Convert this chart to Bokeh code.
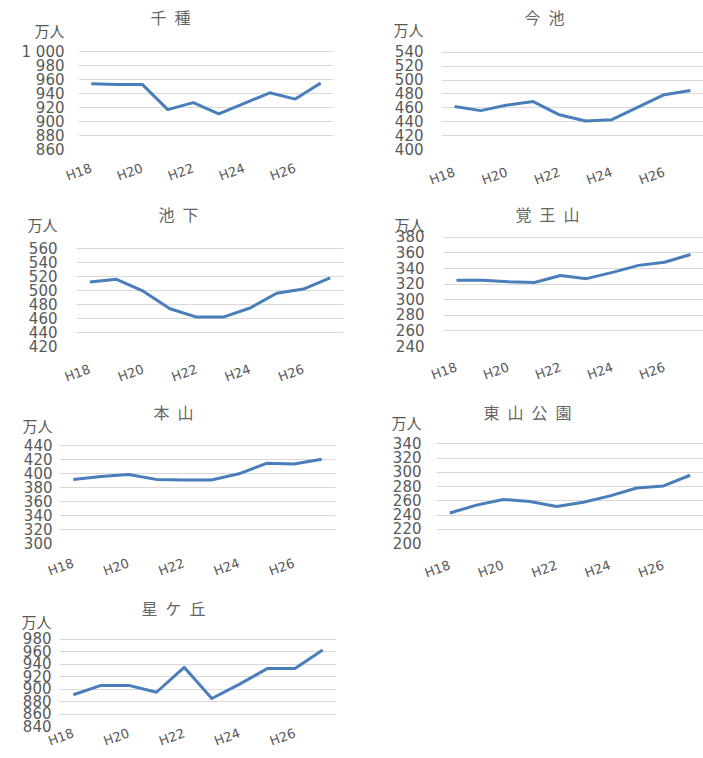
import math
from bokeh.plotting import figure
from bokeh.models import Range1d, FixedTicker, Title
from bokeh.layouts import column, row
from bokeh.embed import file_html
from bokeh.resources import INLINE

# ---------------- data ----------------
years = ["H18", "H19", "H20", "H21", "H22", "H23", "H24", "H25", "H26", "H27"]
shown_years = ["H18", "H20", "H22", "H24", "H26"]
unit_label = "万人"

station_names = ["千\u2002種", "今\u2002池", "池\u2002下", "覚\u2002王\u2002山", "本\u2002山",
                 "東\u2002山\u2002公\u2002園", "星\u2002ケ\u2002丘"]

chikusa = [954, 953, 953, 917, 927, 911, 926, 941, 932, 955]
imaike = [462, 456, 464, 469, 450, 441, 443, 461, 479, 485]
ikeshita = [512, 516, 499, 474, 462, 462, 475, 496, 502, 518]
kakuozan = [325, 325, 323, 322, 331, 327, 335, 344, 348, 358]
motoyama = [392, 396, 399, 392, 391, 391, 400, 415, 414, 421]
higashiyama = [243, 254, 262, 259, 252, 258, 267, 278, 281, 296]
hoshigaoka = [891, 906, 906, 895, 935, 885, 908, 933, 933, 963]

ticks_chikusa = [860, 880, 900, 920, 940, 960, 980, 1000]
ticks_imaike = [400, 420, 440, 460, 480, 500, 520, 540]
ticks_ikeshita = [420, 440, 460, 480, 500, 520, 540, 560]
ticks_kakuozan = [240, 260, 280, 300, 320, 340, 360, 380]
ticks_motoyama = [300, 320, 340, 360, 380, 400, 420, 440]
ticks_higashiyama = [200, 220, 240, 260, 280, 300, 320, 340]
ticks_hoshigaoka = [840, 860, 880, 900, 920, 940, 960, 980]

tick_label_overrides = {1000: "1 000"}

series = [chikusa, imaike, ikeshita, kakuozan, motoyama, higashiyama, hoshigaoka]
tick_sets = [ticks_chikusa, ticks_imaike, ticks_ikeshita, ticks_kakuozan,
             ticks_motoyama, ticks_higashiyama, ticks_hoshigaoka]

# ---------------- layout (pixels, relative to each figure) ----------------
row_heights = [198, 198, 194, 168]
col_widths = [370, 333]
# left/fw: frame x; top/fh: span of the tick range; tx: title centre x; uy: unit label centre y
# ts: title standoff
layout_cfg = [
    dict(row=0, col=0, left=78, fw=255, top=51, fh=98, tx=170, uy=31, ts=3, ystand=14, xstand=18),
    dict(row=0, col=1, left=71, fw=262, top=52, fh=98, tx=174, uy=31, ts=3, ystand=18, xstand=22),
    dict(row=1, col=0, left=76, fw=267, top=50, fh=98, tx=178, uy=28, ts=0, ystand=19, xstand=22),
    dict(row=1, col=1, left=73, fw=260, top=39, fh=111, tx=177, uy=27, ts=0, ystand=19, xstand=20),
    dict(row=2, col=0, left=59, fw=276, top=50, fh=100, tx=173, uy=31, ts=0, ystand=7, xstand=19),
    dict(row=2, col=1, left=66, fw=267, top=48, fh=102, tx=157, uy=28, ts=0, ystand=15, xstand=21),
    dict(row=3, col=0, left=59, fw=277, top=49, fh=88, tx=173, uy=33, ts=4, ystand=8, xstand=6),
]
TITLE_BOX = 26   # approximate height of a 16px title box

LINE_COLOR = "#4a7ebb"
TEXT_COLOR = "#595959"
TITLE_COLOR = "#666666"
GRID_COLOR = "#d9d9d9"
JP_FONT = "Noto Sans CJK JP"
NUM_FONT = "DejaVu Sans, Noto Sans CJK JP"
TITLE_SIZE = 16


def est_width(text, fs):
    return sum(0.5 * fs if ch in " \u2002" else fs for ch in text)


def make_panel(cfg, name, vals, ticks):
    H = row_heights[cfg["row"]]
    W = col_widths[cfg["col"]]
    right = W - cfg["left"] - cfg["fw"]
    bottom = H - cfg["top"] - cfg["fh"]
    ft = TITLE_BOX + 1 + cfg["ts"]          # frame top (frame extends above tick range)
    upp = (ticks[-1] - ticks[0]) / cfg["fh"]
    y_hi = ticks[-1] + (cfg["top"] - ft) * upp
    unit_tick = round(ticks[-1] + (cfg["top"] - cfg["uy"]) * upp, 3)

    xs = list(range(len(years)))
    p = figure(width=W, height=H, output_backend="svg", toolbar_location=None,
               x_range=Range1d(-0.5, len(years) - 0.5),
               y_range=Range1d(ticks[0], y_hi),
               min_border_left=cfg["left"], min_border_right=right,
               min_border_top=ft, min_border_bottom=bottom)
    p.outline_line_color = None
    p.background_fill_color = "white"
    p.border_fill_color = "white"

    p.line(xs, vals, line_color=LINE_COLOR, line_width=3, line_join="round")

    # y axis (unit label shown as the top label of the axis)
    yax = p.yaxis[0]
    yax.ticker = FixedTicker(ticks=ticks + [unit_tick])
    yax.axis_line_color = None
    yax.major_tick_line_color = None
    yax.minor_tick_line_color = None
    yax.major_tick_out = 0
    yax.major_label_standoff = cfg["ystand"]
    yax.major_label_text_font = NUM_FONT
    yax.major_label_text_font_size = "15px"
    yax.major_label_text_color = TEXT_COLOR
    overrides = {t: tick_label_overrides[t] for t in ticks if t in tick_label_overrides}
    overrides[unit_tick] = unit_label
    yax.major_label_overrides = overrides

    # x axis
    xax = p.xaxis[0]
    xtick_pos = [years.index(y) for y in shown_years]
    xax.ticker = FixedTicker(ticks=xtick_pos)
    xax.major_label_overrides = {years.index(y): y for y in shown_years}
    xax.axis_line_color = None
    xax.major_tick_line_color = None
    xax.minor_tick_line_color = None
    xax.major_tick_out = 0
    xax.major_label_standoff = cfg["xstand"]
    xax.major_label_orientation = math.radians(20)
    xax.major_label_text_font = "DejaVu Sans"
    xax.major_label_text_font_size = "13px"
    xax.major_label_text_color = TEXT_COLOR

    p.xgrid.visible = False
    p.ygrid.ticker = FixedTicker(ticks=ticks)
    p.ygrid.grid_line_color = GRID_COLOR
    p.ygrid.grid_line_width = 1

    p.add_layout(Title(text=name, align="left",
                       offset=cfg["tx"] - est_width(name, TITLE_SIZE) / 2 - cfg["left"],
                       standoff=cfg["ts"],
                       text_font=JP_FONT, text_font_size=f"{TITLE_SIZE}px", text_font_style="normal",
                       text_color=TITLE_COLOR), "above")
    return p


figs = [make_panel(c, n, v, t) for c, n, v, t in zip(layout_cfg, station_names, series, tick_sets)]

page = column(row(figs[0], figs[1]), row(figs[2], figs[3]), row(figs[4], figs[5]), row(figs[6]))

open("out.html", "w").write(file_html(page, INLINE, "chart"))
